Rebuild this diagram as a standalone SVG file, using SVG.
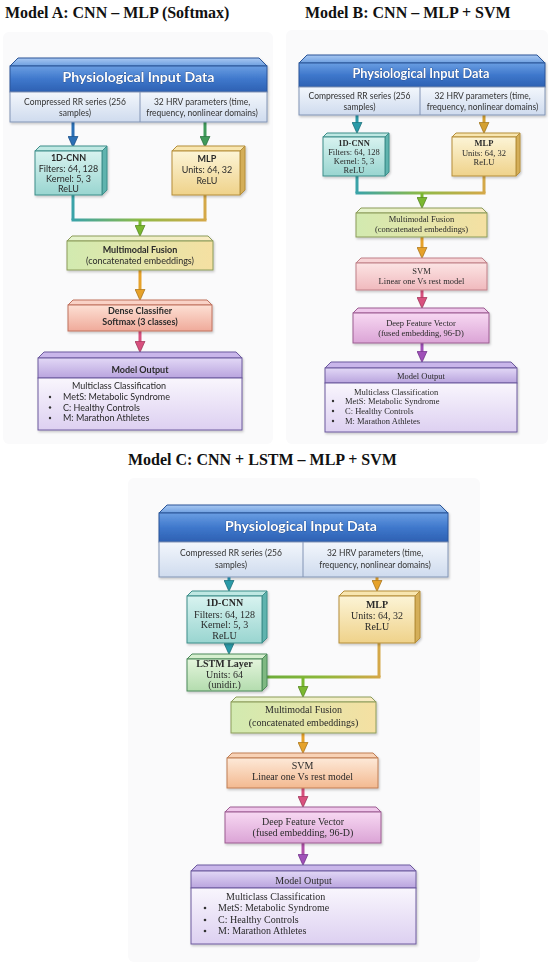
<svg xmlns="http://www.w3.org/2000/svg" width="550" height="967" viewBox="0 0 550 967">
<defs>
<style>
.ttl{font-family:"Liberation Serif",serif;font-weight:bold;font-size:16px;fill:#111}
.hdr{font-family:Lato,"Liberation Sans",sans-serif;font-weight:bold;fill:#fff;text-anchor:middle}
.sub{font-family:Lato,"Liberation Sans",sans-serif;font-size:8.5px;fill:#333;text-anchor:middle}
.sa{font-family:Lato,"Liberation Sans",sans-serif;font-size:9px;fill:#2a2a2a;text-anchor:middle}
.sb{font-family:"Liberation Serif",serif;font-size:8.5px;fill:#2a2a2a;text-anchor:middle}
.sc{font-family:"Liberation Serif",serif;font-size:10px;fill:#2a2a2a;text-anchor:middle}
.b{font-weight:bold}
.l{text-anchor:start}
.bul{fill:#333}
.ln{fill:none;stroke-width:3;stroke-linecap:butt;stroke-linejoin:round}
.hdrS{stroke:#2a5498;stroke-width:1}
.subS{fill:url(#gSub);stroke:#8294b5;stroke-width:1}
.cnnF{fill:url(#gCnn);stroke:#3d8e8a;stroke-width:1}
.cnnT{fill:#bfe8e3;stroke:#3d8e8a;stroke-width:1}
.cnnD{fill:#5fb3ae;stroke:#3d8e8a;stroke-width:1}
.mlpF{fill:url(#gMlp);stroke:#b58e3a;stroke-width:1}
.mlpT{fill:#f8e6b0;stroke:#b58e3a;stroke-width:1}
.mlpD{fill:#d4ae58;stroke:#b58e3a;stroke-width:1}
.lstF{fill:url(#gLst);stroke:#4d8a5a;stroke-width:1}
.lstT{fill:#d6efcf;stroke:#4d8a5a;stroke-width:1}
.lstD{fill:#7fb882;stroke:#4d8a5a;stroke-width:1}
.fusF{fill:url(#gFus);stroke:#8c9c5a;stroke-width:1}
.fusT{fill:url(#gFusT);stroke:#8c9c5a;stroke-width:1}
.denF{fill:url(#gDen);stroke:#c0725f;stroke-width:1}
.denT{fill:#f9d2c6;stroke:#c0725f;stroke-width:1}
.svbF{fill:url(#gSvB);stroke:#c08088;stroke-width:1}
.svbT{fill:#f7d3d5;stroke:#c08088;stroke-width:1}
.svcF{fill:url(#gSvC);stroke:#c07f55;stroke-width:1}
.svcT{fill:#f8d2b6;stroke:#c07f55;stroke-width:1}
.dfvF{fill:url(#gDfv);stroke:#9c5c92;stroke-width:1}
.dfvT{fill:#efc6ea;stroke:#9c5c92;stroke-width:1}
.outT{fill:#c9b6ea;stroke:#6d5a9e;stroke-width:1}
.outH{fill:url(#gOutH);stroke:#6d5a9e;stroke-width:1}
.outB{fill:url(#gOutB);stroke:#6d5a9e;stroke-width:1}
.panel{fill:#fafafb}
</style>
<filter id="sh" x="-10%" y="-10%" width="120%" height="130%"><feDropShadow dx="1" dy="1.5" stdDeviation="1" flood-color="#000" flood-opacity="0.22"/></filter>
<linearGradient id="gHdr" x1="0" y1="0" x2="0" y2="1"><stop offset="0" stop-color="#6a9ee2"/><stop offset="0.5" stop-color="#3f78cc"/><stop offset="1" stop-color="#2d60b2"/></linearGradient>
<linearGradient id="gHdrT" x1="0" y1="0" x2="0" y2="1"><stop offset="0" stop-color="#a9c8f2"/><stop offset="1" stop-color="#6d9fe0"/></linearGradient>
<linearGradient id="gSub" x1="0" y1="0" x2="0" y2="1"><stop offset="0" stop-color="#f3f7fc"/><stop offset="1" stop-color="#cfdbee"/></linearGradient>
<linearGradient id="gCnn" x1="0" y1="0" x2="0" y2="1"><stop offset="0" stop-color="#d8f3f0"/><stop offset="1" stop-color="#99d5d0"/></linearGradient>
<linearGradient id="gMlp" x1="0" y1="0" x2="0" y2="1"><stop offset="0" stop-color="#fcf4d6"/><stop offset="1" stop-color="#efd28a"/></linearGradient>
<linearGradient id="gLst" x1="0" y1="0" x2="0" y2="1"><stop offset="0" stop-color="#e4f5dc"/><stop offset="1" stop-color="#b3dcae"/></linearGradient>
<linearGradient id="gFus" x1="0" y1="0" x2="1" y2="0"><stop offset="0" stop-color="#d2eab0"/><stop offset="1" stop-color="#f5e0a2"/></linearGradient>
<linearGradient id="gFusT" x1="0" y1="0" x2="1" y2="0"><stop offset="0" stop-color="#e4f3cc"/><stop offset="1" stop-color="#f9ebc2"/></linearGradient>
<linearGradient id="gDen" x1="0" y1="0" x2="0" y2="1"><stop offset="0" stop-color="#fde0d4"/><stop offset="1" stop-color="#f0aa9a"/></linearGradient>
<linearGradient id="gSvB" x1="0" y1="0" x2="0" y2="1"><stop offset="0" stop-color="#fce4e4"/><stop offset="1" stop-color="#f0b9bd"/></linearGradient>
<linearGradient id="gSvC" x1="0" y1="0" x2="0" y2="1"><stop offset="0" stop-color="#fde9d8"/><stop offset="1" stop-color="#f3b990"/></linearGradient>
<linearGradient id="gDfv" x1="0" y1="0" x2="0" y2="1"><stop offset="0" stop-color="#f7d8f2"/><stop offset="1" stop-color="#dba4d6"/></linearGradient>
<linearGradient id="gOutH" x1="0" y1="0" x2="0" y2="1"><stop offset="0" stop-color="#e2d8f6"/><stop offset="1" stop-color="#b9a4de"/></linearGradient>
<linearGradient id="gOutB" x1="0" y1="0" x2="0" y2="1"><stop offset="0" stop-color="#f9f6fd"/><stop offset="1" stop-color="#ddd0f1"/></linearGradient>
<linearGradient id="gMA" gradientUnits="userSpaceOnUse" x1="73" y1="0" x2="205" y2="0"><stop offset="0" stop-color="#3aa3a8"/><stop offset="0.5" stop-color="#8dba48"/><stop offset="1" stop-color="#d4a848"/></linearGradient>
<linearGradient id="gMB" gradientUnits="userSpaceOnUse" x1="357" y1="0" x2="484" y2="0"><stop offset="0" stop-color="#3aa3a8"/><stop offset="0.5" stop-color="#8dba48"/><stop offset="1" stop-color="#d4a848"/></linearGradient>
<linearGradient id="gMC" gradientUnits="userSpaceOnUse" x1="264" y1="0" x2="379" y2="0"><stop offset="0" stop-color="#6aac3a"/><stop offset="0.5" stop-color="#8cb83a"/><stop offset="1" stop-color="#d4a848"/></linearGradient>
<marker id="mBlue" viewBox="0 0 10 10" refX="7" refY="5" markerWidth="11" markerHeight="11" markerUnits="userSpaceOnUse" orient="auto"><path d="M0,0.5 L10,5 L0,9.5 z" fill="#2a6fb5" stroke="#1d4f86" stroke-width="0.7"/></marker>
<marker id="mGreen" viewBox="0 0 10 10" refX="7" refY="5" markerWidth="11" markerHeight="11" markerUnits="userSpaceOnUse" orient="auto"><path d="M0,0.5 L10,5 L0,9.5 z" fill="#3f9a5a" stroke="#2b6e3f" stroke-width="0.7"/></marker>
<marker id="mTeal" viewBox="0 0 10 10" refX="7" refY="5" markerWidth="11" markerHeight="11" markerUnits="userSpaceOnUse" orient="auto"><path d="M0,0.5 L10,5 L0,9.5 z" fill="#2a9aa8" stroke="#1d6e78" stroke-width="0.7"/></marker>
<marker id="mGold" viewBox="0 0 10 10" refX="7" refY="5" markerWidth="11" markerHeight="11" markerUnits="userSpaceOnUse" orient="auto"><path d="M0,0.5 L10,5 L0,9.5 z" fill="#d4a030" stroke="#9c7420" stroke-width="0.7"/></marker>
<marker id="mLime" viewBox="0 0 10 10" refX="7" refY="5" markerWidth="11" markerHeight="11" markerUnits="userSpaceOnUse" orient="auto"><path d="M0,0.5 L10,5 L0,9.5 z" fill="#7ab830" stroke="#558420" stroke-width="0.7"/></marker>
<marker id="mOrange" viewBox="0 0 10 10" refX="7" refY="5" markerWidth="11" markerHeight="11" markerUnits="userSpaceOnUse" orient="auto"><path d="M0,0.5 L10,5 L0,9.5 z" fill="#e6a22a" stroke="#a8741c" stroke-width="0.7"/></marker>
<marker id="mPink" viewBox="0 0 10 10" refX="7" refY="5" markerWidth="11" markerHeight="11" markerUnits="userSpaceOnUse" orient="auto"><path d="M0,0.5 L10,5 L0,9.5 z" fill="#d8507e" stroke="#9c3458" stroke-width="0.7"/></marker>
<marker id="mPurple" viewBox="0 0 10 10" refX="7" refY="5" markerWidth="11" markerHeight="11" markerUnits="userSpaceOnUse" orient="auto"><path d="M0,0.5 L10,5 L0,9.5 z" fill="#a050b8" stroke="#70348a" stroke-width="0.7"/></marker>
</defs>
<rect width="550" height="967" fill="#ffffff"/>
<rect class="panel" x="3" y="32" width="270" height="412" rx="6"/>
<rect class="panel" x="286" y="30" width="262" height="414" rx="6"/>
<rect class="panel" x="128" y="478" width="352" height="484" rx="6"/>

<text class="ttl" x="5" y="18">Model A: CNN – MLP (Softmax)</text>
<text class="ttl" x="305" y="18">Model B: CNN – MLP + SVM</text>
<text class="ttl" x="128" y="465">Model C: CNN + LSTM – MLP + SVM</text>

<g id="connectors">
<!-- Model A -->
<line class="ln" x1="73" y1="122" x2="73" y2="144" stroke="#2a6fb5" marker-end="url(#mBlue)"/>
<line class="ln" x1="205" y1="122" x2="205" y2="144" stroke="#3f9a5a" marker-end="url(#mGreen)"/>
<path class="ln" d="M73,195 V220" stroke="#3aa3a8"/>
<path class="ln" d="M205,195 V220" stroke="#d4a848"/>
<path class="ln" d="M71.5,220 H206.5" stroke="url(#gMA)"/>
<line class="ln" x1="140" y1="220" x2="140" y2="233" stroke="#7ab830" marker-end="url(#mLime)"/>
<line class="ln" x1="140" y1="270" x2="140" y2="297" stroke="#e6a22a" marker-end="url(#mOrange)"/>
<line class="ln" x1="140" y1="331" x2="140" y2="349" stroke="#d8507e" marker-end="url(#mPink)"/>
<!-- Model B -->
<line class="ln" x1="357" y1="115" x2="357" y2="130" stroke="#2a9aa8" marker-end="url(#mTeal)"/>
<line class="ln" x1="484" y1="115" x2="484" y2="130" stroke="#d4a030" marker-end="url(#mGold)"/>
<path class="ln" d="M357,176 V193" stroke="#3aa3a8"/>
<path class="ln" d="M484,176 V193" stroke="#d4a848"/>
<path class="ln" d="M355.5,193 H485.5" stroke="url(#gMB)"/>
<line class="ln" x1="422" y1="193" x2="422" y2="205" stroke="#7ab830" marker-end="url(#mLime)"/>
<line class="ln" x1="422" y1="237" x2="422" y2="255" stroke="#e6a22a" marker-end="url(#mOrange)"/>
<line class="ln" x1="422" y1="290" x2="422" y2="305" stroke="#d8507e" marker-end="url(#mPink)"/>
<line class="ln" x1="422" y1="343" x2="422" y2="359" stroke="#a050b8" marker-end="url(#mPurple)"/>
<!-- Model C -->
<line class="ln" x1="229" y1="577" x2="229" y2="588" stroke="#2a9ab8" marker-end="url(#mTeal)"/>
<line class="ln" x1="377" y1="577" x2="377" y2="588" stroke="#e6a22a" marker-end="url(#mOrange)"/>
<line class="ln" x1="229" y1="643" x2="229" y2="651" stroke="#2ab0c0" marker-end="url(#mTeal)"/>
<path class="ln" d="M379,643 V677" stroke="#d4a848"/>
<path class="ln" d="M264,677 H380.5" stroke="url(#gMC)"/>
<line class="ln" x1="303" y1="677" x2="303" y2="694" stroke="#7ab830" marker-end="url(#mLime)"/>
<line class="ln" x1="303" y1="733" x2="303" y2="750" stroke="#e6a22a" marker-end="url(#mOrange)"/>
<line class="ln" x1="303" y1="788" x2="303" y2="804" stroke="#d8507e" marker-end="url(#mPink)"/>
<line class="ln" x1="303" y1="843" x2="303" y2="862" stroke="#b050a8" marker-end="url(#mPurple)"/>
</g>

<!-- ============ Model A ============ -->
<g id="a-input" filter="url(#sh)">
<polygon points="10,66 18,58 259,58 267,66" fill="url(#gHdrT)" class="hdrS"/>
<rect x="10" y="66" width="257" height="26" fill="url(#gHdr)" class="hdrS"/>
<text class="hdr" x="138.5" y="82" font-size="14" textLength="152" lengthAdjust="spacingAndGlyphs" stroke="#1e3f78" stroke-width="0.6" paint-order="stroke">Physiological Input Data</text>
<rect class="subS" x="10" y="92" width="257" height="30"/>
<line x1="140" y1="92" x2="140" y2="122" stroke="#8294b5" stroke-width="1"/>
<text class="sub" x="75" y="105">Compressed RR series (256</text>
<text class="sub" x="75" y="116">samples)</text>
<text class="sub" x="202" y="105">32 HRV parameters (time,</text>
<text class="sub" x="202" y="116">frequency, nonlinear domains)</text>
</g>
<g id="a-cnn" filter="url(#sh)">
<polygon class="cnnT" points="35,151 40,146 107,146 102,151"/>
<polygon class="cnnD" points="102,151 107,146 107,190 102,195"/>
<rect class="cnnF" x="35" y="151" width="67" height="44"/>
<text class="sa b" x="68.5" y="161">1D-CNN</text>
<text class="sa" x="68.5" y="172">Filters: 64, 128</text>
<text class="sa" x="68.5" y="182">Kernel: 5, 3</text>
<text class="sa" x="68.5" y="192">ReLU</text>
</g>
<g id="a-mlp" filter="url(#sh)">
<polygon class="mlpT" points="172,151 177,146 245,146 240,151"/>
<polygon class="mlpD" points="240,151 245,146 245,190 240,195"/>
<rect class="mlpF" x="172" y="151" width="68" height="44"/>
<text class="sa b" x="207" y="162">MLP</text>
<text class="sa" x="207" y="173">Units: 64, 32</text>
<text class="sa" x="207" y="184">ReLU</text>
</g>
<g id="a-fusion" filter="url(#sh)">
<polygon class="fusT" points="67,241 72,236 208,236 213,241"/>
<rect class="fusF" x="67" y="241" width="146" height="29"/>
<text class="sa b" x="140" y="253">Multimodal Fusion</text>
<text class="sa" x="140" y="264">(concatenated embeddings)</text>
</g>
<g id="a-dense" filter="url(#sh)">
<polygon class="denT" points="68,305 73,300 207,300 212,305"/>
<rect class="denF" x="68" y="305" width="144" height="26"/>
<text class="sa b" x="140" y="314">Dense Classifier</text>
<text class="sa b" x="140" y="325">Softmax (3 classes)</text>
</g>
<g id="a-output" filter="url(#sh)">
<polygon class="outT" points="38,358 44,352 236,352 242,358"/>
<rect class="outH" x="38" y="358" width="204" height="20"/>
<rect class="outB" x="38" y="378" width="204" height="52"/>
<text class="sa b" x="140" y="373">Model Output</text>
<text class="sa l" x="72" y="389">Multiclass Classification</text>
<circle class="bul" cx="50" cy="397" r="1.2"/>
<circle class="bul" cx="50" cy="407.5" r="1.2"/>
<circle class="bul" cx="50" cy="418" r="1.2"/>
<text class="sa l" x="63" y="400">MetS: Metabolic Syndrome</text>
<text class="sa l" x="63" y="410.5">C: Healthy Controls</text>
<text class="sa l" x="63" y="421">M: Marathon Athletes</text>
</g>

<!-- ============ Model B ============ -->
<g id="b-input" filter="url(#sh)">
<polygon points="299,63 307,55 537,55 545,63" fill="url(#gHdrT)" class="hdrS"/>
<rect x="299" y="63" width="246" height="24" fill="url(#gHdr)" class="hdrS"/>
<text class="hdr" x="421" y="78" font-size="13" textLength="137" lengthAdjust="spacingAndGlyphs" stroke="#1e3f78" stroke-width="0.6" paint-order="stroke">Physiological Input Data</text>
<rect class="subS" x="299" y="87" width="246" height="28"/>
<line x1="420" y1="87" x2="420" y2="115" stroke="#8294b5" stroke-width="1"/>
<text class="sub" x="359.5" y="99" font-size="8">Compressed RR series (256</text>
<text class="sub" x="359.5" y="110" font-size="8">samples)</text>
<text class="sub" x="482.5" y="99" font-size="8">32 HRV parameters (time,</text>
<text class="sub" x="482.5" y="110" font-size="8">frequency, nonlinear domains)</text>
</g>
<g id="b-cnn" filter="url(#sh)">
<polygon class="cnnT" points="323,137 327,133 389,133 385,137"/>
<polygon class="cnnD" points="385,137 389,133 389,172 385,176"/>
<rect class="cnnF" x="323" y="137" width="62" height="39"/>
<text class="sb b" x="354" y="145.5" font-size="8">1D-CNN</text>
<text class="sb" x="354" y="154.5" font-size="8">Filters: 64, 128</text>
<text class="sb" x="354" y="163.5" font-size="8">Kernel: 5, 3</text>
<text class="sb" x="354" y="172.5" font-size="8">ReLU</text>
</g>
<g id="b-mlp" filter="url(#sh)">
<polygon class="mlpT" points="452,137 456,133 520,133 516,137"/>
<polygon class="mlpD" points="516,137 520,133 520,172 516,176"/>
<rect class="mlpF" x="452" y="137" width="64" height="39"/>
<text class="sb b" x="484" y="146">MLP</text>
<text class="sb" x="484" y="156">Units: 64, 32</text>
<text class="sb" x="484" y="165">ReLU</text>
</g>
<g id="b-fusion" filter="url(#sh)">
<polygon class="fusT" points="356,213 361,208 482,208 487,213"/>
<rect class="fusF" x="356" y="213" width="131" height="24"/>
<text class="sb" x="421.5" y="222" font-size="9">Multimodal Fusion</text>
<text class="sb" x="421.5" y="232" font-size="9">(concatenated embeddings)</text>
</g>
<g id="b-svm" filter="url(#sh)">
<polygon class="svbT" points="356,263 361,258 482,258 487,263"/>
<rect class="svbF" x="356" y="263" width="131" height="27"/>
<text class="sb" x="421.5" y="274" font-size="9">SVM</text>
<text class="sb" x="421.5" y="284" font-size="9">Linear one Vs rest model</text>
</g>
<g id="b-dfv" filter="url(#sh)">
<polygon class="dfvT" points="353,313 358,308 484,308 489,313"/>
<rect class="dfvF" x="353" y="313" width="136" height="30"/>
<text class="sb" x="421" y="326" font-size="9">Deep Feature Vector</text>
<text class="sb" x="421" y="336" font-size="9">(fused embedding, 96-D)</text>
</g>
<g id="b-output" filter="url(#sh)">
<polygon class="outT" points="325,368 331,362 511,362 517,368"/>
<rect class="outH" x="325" y="368" width="192" height="15"/>
<rect class="outB" x="325" y="383" width="192" height="49"/>
<text class="sb" x="421" y="379" font-size="9">Model Output</text>
<text class="sb l" x="354" y="395">Multiclass Classification</text>
<circle class="bul" cx="333" cy="401" r="1.2"/>
<circle class="bul" cx="333" cy="411" r="1.2"/>
<circle class="bul" cx="333" cy="421" r="1.2"/>
<text class="sb l" x="345" y="404">MetS: Metabolic Syndrome</text>
<text class="sb l" x="345" y="414">C: Healthy Controls</text>
<text class="sb l" x="345" y="424">M: Marathon Athletes</text>
</g>

<!-- ============ Model C ============ -->
<g id="c-input" filter="url(#sh)">
<polygon points="159,513 167,505 440,505 448,513" fill="url(#gHdrT)" class="hdrS"/>
<rect x="159" y="513" width="289" height="29" fill="url(#gHdr)" class="hdrS"/>
<text class="hdr" x="301" y="531" font-size="14" textLength="152" lengthAdjust="spacingAndGlyphs" stroke="#1e3f78" stroke-width="0.6" paint-order="stroke">Physiological Input Data</text>
<rect class="subS" x="159" y="542" width="289" height="35"/>
<line x1="303" y1="542" x2="303" y2="577" stroke="#8294b5" stroke-width="1"/>
<text class="sub" x="231" y="556">Compressed RR series (256</text>
<text class="sub" x="231" y="568">samples)</text>
<text class="sub" x="375" y="556">32 HRV parameters (time,</text>
<text class="sub" x="375" y="568">frequency, nonlinear domains)</text>
</g>
<g id="c-cnn" filter="url(#sh)">
<polygon class="cnnT" points="187,596 192,591 267,591 262,596"/>
<polygon class="cnnD" points="262,596 267,591 267,638 262,643"/>
<rect class="cnnF" x="187" y="596" width="75" height="47"/>
<text class="sc b" x="224.5" y="606">1D-CNN</text>
<text class="sc" x="224.5" y="618">Filters: 64, 128</text>
<text class="sc" x="224.5" y="628">Kernel: 5, 3</text>
<text class="sc" x="224.5" y="639">ReLU</text>
</g>
<g id="c-lstm" filter="url(#sh)">
<polygon class="lstT" points="187,659 192,654 267,654 262,659"/>
<polygon class="lstD" points="262,659 267,654 267,686 262,691"/>
<rect class="lstF" x="187" y="659" width="75" height="32"/>
<text class="sc b" x="224.5" y="667">LSTM Layer</text>
<text class="sc" x="224.5" y="678">Units: 64</text>
<text class="sc" x="224.5" y="688">(unidir.)</text>
</g>
<g id="c-mlp" filter="url(#sh)">
<polygon class="mlpT" points="339,596 344,591 420,591 415,596"/>
<polygon class="mlpD" points="415,596 420,591 420,638 415,643"/>
<rect class="mlpF" x="339" y="596" width="76" height="47"/>
<text class="sc b" x="377" y="608">MLP</text>
<text class="sc" x="377" y="619">Units: 64, 32</text>
<text class="sc" x="377" y="630">ReLU</text>
</g>
<g id="c-fusion" filter="url(#sh)">
<polygon class="fusT" points="231,702 236,697 371,697 376,702"/>
<rect class="fusF" x="231" y="702" width="145" height="31"/>
<text class="sc" x="303.5" y="713">Multimodal Fusion</text>
<text class="sc" x="303.5" y="726">(concatenated embeddings)</text>
</g>
<g id="c-svm" filter="url(#sh)">
<polygon class="svcT" points="227,758 232,753 373,753 378,758"/>
<rect class="svcF" x="227" y="758" width="151" height="30"/>
<text class="sc" x="302.5" y="769">SVM</text>
<text class="sc" x="302.5" y="780">Linear one Vs rest model</text>
</g>
<g id="c-dfv" filter="url(#sh)">
<polygon class="dfvT" points="225,812 230,807 376,807 381,812"/>
<rect class="dfvF" x="225" y="812" width="156" height="31"/>
<text class="sc" x="303" y="825">Deep Feature Vector</text>
<text class="sc" x="303" y="836">(fused embedding, 96-D)</text>
</g>
<g id="c-output" filter="url(#sh)">
<polygon class="outT" points="191,871 197,865 410,865 416,871"/>
<rect class="outH" x="191" y="871" width="225" height="17"/>
<rect class="outB" x="191" y="888" width="225" height="56"/>
<text class="sc" x="303.5" y="884">Model Output</text>
<text class="sc l" x="226" y="900">Multiclass Classification</text>
<circle class="bul" cx="205" cy="908" r="1.3"/>
<circle class="bul" cx="205" cy="920" r="1.3"/>
<circle class="bul" cx="205" cy="931" r="1.3"/>
<text class="sc l" x="218" y="911">MetS: Metabolic Syndrome</text>
<text class="sc l" x="218" y="923">C: Healthy Controls</text>
<text class="sc l" x="218" y="934">M: Marathon Athletes</text>
</g>
</svg>
